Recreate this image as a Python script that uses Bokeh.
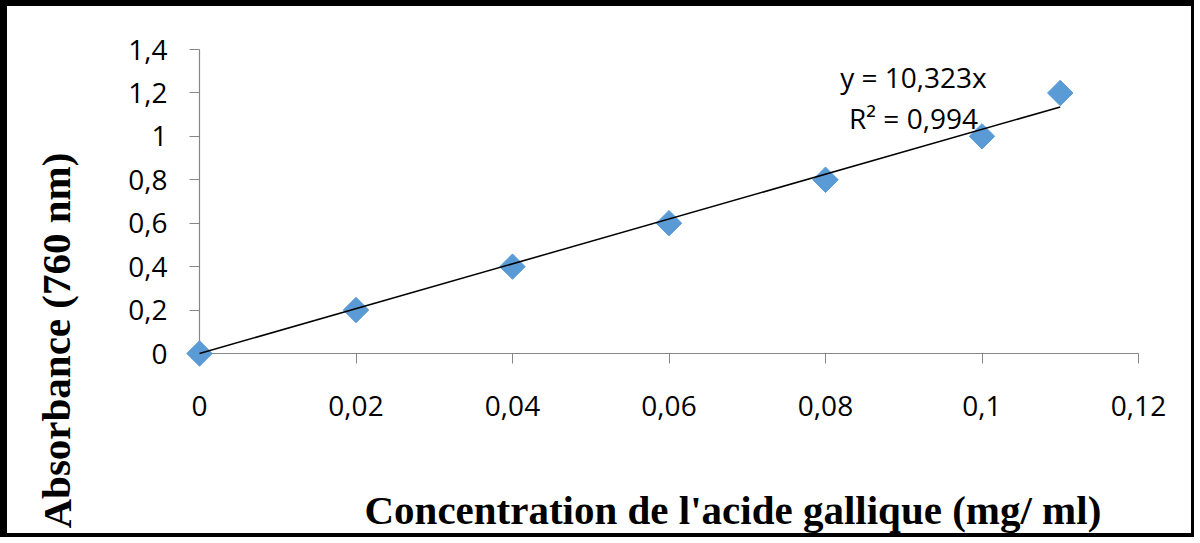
from bokeh.plotting import figure
from bokeh.models import FixedTicker, Label, Range1d
from bokeh.layouts import column
from bokeh.embed import file_html
from bokeh.resources import INLINE

# ---- data ----
conc = [0, 0.02, 0.04, 0.06, 0.08, 0.10, 0.11]
absorbance = [0, 0.2, 0.4, 0.6, 0.8, 1.0, 1.2]
slope = 10.323
r_squared = 0.994
x_ticks = [0, 0.02, 0.04, 0.06, 0.08, 0.1, 0.12]
x_tick_labels = ["0", "0,02", "0,04", "0,06", "0,08", "0,1", "0,12"]
y_ticks = [0, 0.2, 0.4, 0.6, 0.8, 1, 1.2, 1.4]
y_tick_labels = ["0", "0,2", "0,4", "0,6", "0,8", "1", "1,2", "1,4"]
x_title = "Concentration de l'acide gallique (mg/ ml)"
y_title = "Absorbance (760 nm)"

# ---- layout (page pixels) ----
W, H = 1184, 527          # canvas, placed at page (8, 8)
AX_L, AX_R = 200, 1139    # page x of x_ticks[0] / x_ticks[-1]
AX_B, AX_T = 355, 51      # page y of y_ticks[0] / y_ticks[-1]
sx = (AX_R - AX_L) / (x_ticks[-1] - x_ticks[0])
sy = (AX_B - AX_T) / (y_ticks[-1] - y_ticks[0])


def px_x(px):
    return x_ticks[0] + (px - AX_L) / sx


def px_y(py):
    return y_ticks[0] + (AX_B - py) / sy


# the frame fills the whole canvas so nothing is clipped
p = figure(width=W, height=H, output_backend="svg", toolbar_location=None,
           x_range=Range1d(px_x(8), px_x(8 + W)), y_range=Range1d(px_y(8 + H), px_y(8)),
           min_border=0, min_border_left=0, min_border_right=0,
           min_border_top=0, min_border_bottom=0)
p.outline_line_color = None
p.xgrid.visible = False
p.ygrid.visible = False
p.background_fill_color = "white"
p.border_fill_color = "white"

for ax in (p.xaxis[0], p.yaxis[0]):
    ax.fixed_location = 0
    ax.axis_line_color = "#868686"
    ax.axis_line_width = 1.2
    ax.major_tick_line_color = "#868686"
    ax.minor_tick_line_color = None
    ax.major_tick_out = 10
    ax.major_tick_in = 0
    ax.major_label_text_font = "Open Sans"
    ax.major_label_text_font_size = "28px"
    ax.major_label_text_color = "black"
    ax.level = "underlay"

p.xaxis.bounds = (x_ticks[0], x_ticks[-1])
p.xaxis.ticker = FixedTicker(ticks=x_ticks)
p.xaxis.major_label_overrides = dict(zip(x_ticks, x_tick_labels))
p.xaxis.major_label_standoff = 32
p.yaxis.bounds = (y_ticks[0], y_ticks[-1])
p.yaxis.ticker = FixedTicker(ticks=y_ticks)
p.yaxis.major_label_overrides = dict(zip(y_ticks, y_tick_labels))
p.yaxis.major_label_standoff = 22

p.scatter(conc, absorbance, marker="square", angle=0.785398, size=18,
          fill_color="#5B9BD5", line_color="#5B9BD5")

fit_x = [0, max(conc)]
fit_y = [slope * v for v in fit_x]
p.line(fit_x, fit_y, line_color="black", line_width=1.5)

eq_text = "y = " + f"{slope:.3f}".replace(".", ",") + "x"
r2_text = "R² = " + f"{r_squared:.3f}".replace(".", ",")
for txt, py in ((eq_text, 78), (r2_text, 119)):
    p.add_layout(Label(x=px_x(914), y=px_y(py), text=txt, text_align="center",
                       text_baseline="middle", text_font="Open Sans",
                       text_font_size="28px", text_color="black"))

p.add_layout(Label(x=px_x(365), y=px_y(511), text=x_title, text_align="left",
                   text_baseline="alphabetic", text_font="Liberation Serif",
                   text_font_style="bold", text_font_size="41px", text_color="black"))
p.add_layout(Label(x=px_x(57), y=px_y(530), text=y_title, angle=1.5708,
                   text_align="left", text_baseline="middle", text_font="Liberation Serif",
                   text_font_style="bold", text_font_size="41px", text_color="black"))

layout = column(p, styles={"border-style": "solid", "border-color": "black",
                           "border-width": "6px 3px 4px 7px"})

open("out.html", "w").write(file_html(layout, INLINE))
